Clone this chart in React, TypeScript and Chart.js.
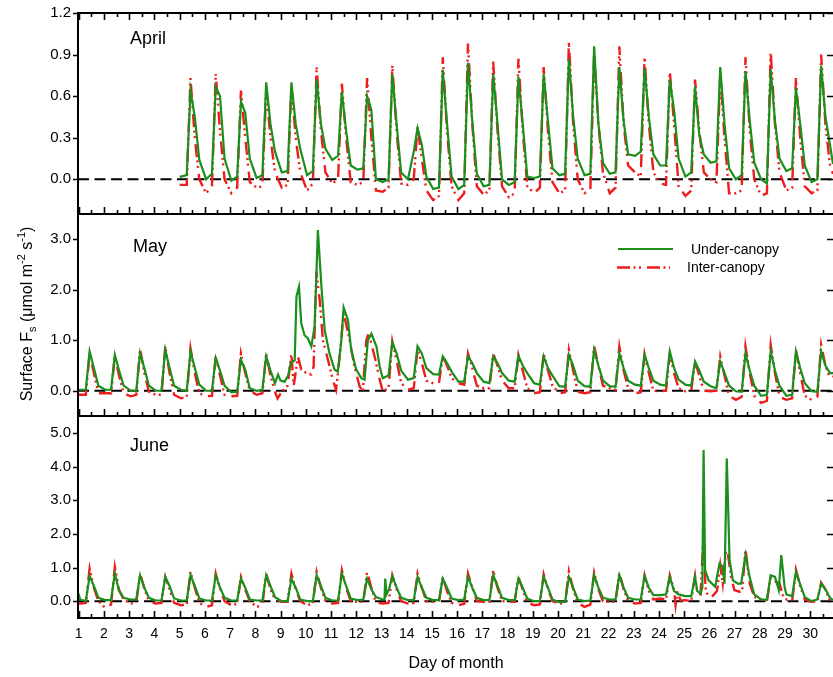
import React, { useEffect, useRef } from 'react';
import { Chart, registerables } from 'chart.js';

Chart.register(...registerables);

// ---------------- DATA ----------------
// Each daily cycle is described by values read at fixed times of day:
// night (d+0.05), dawn (d+0.28), peak (d+0.43), afternoon (d+0.60), evening (d+0.78)
const DAY_PHASES = [0.05, 0.28, 0.43, 0.6, 0.78];
const dayTicks = [1, 2, 3, 4, 5, 6, 7, 8, 9, 10, 11, 12, 13, 14, 15, 16, 17, 18, 19, 20, 21, 22, 23, 24, 25, 26, 27, 28, 29, 30];

// April (days 5..30)
const aprFirstDay = 5;
const aprUnderNight = [0.02, 0.00, -0.01, 0.01, 0.05, 0.03, 0.14, 0.07, -0.02, 0.00, -0.07, -0.07, -0.05, -0.04, 0.01, 0.03, 0.03, 0.04, 0.17, 0.10, 0.02, 0.12, 0.00, 0.00, 0.06, -0.02];
const aprUnderDawn = [0.03, 0.04, 0.02, 0.03, 0.06, 0.06, 0.17, 0.08, 0.00, 0.20, -0.06, -0.04, -0.04, -0.02, 0.02, 0.04, 0.04, 0.05, 0.20, 0.10, 0.05, 0.13, 0.03, -0.03, 0.08, 0.00];
const aprUnderPeak = [0.64, 0.67, 0.56, 0.70, 0.70, 0.72, 0.63, 0.60, 0.76, 0.37, 0.79, 0.84, 0.76, 0.74, 0.76, 0.87, 0.96, 0.81, 0.80, 0.72, 0.67, 0.81, 0.78, 0.79, 0.66, 0.82];
const aprUnderAft = [0.45, 0.60, 0.48, 0.40, 0.40, 0.40, 0.35, 0.50, 0.40, 0.25, 0.40, 0.42, 0.40, 0.40, 0.42, 0.45, 0.40, 0.42, 0.45, 0.50, 0.32, 0.40, 0.42, 0.42, 0.40, 0.45];
const aprUnderEve = [0.14, 0.15, 0.15, 0.20, 0.22, 0.22, 0.10, 0.00, 0.05, 0.02, 0.02, 0.04, 0.00, 0.02, 0.08, 0.15, 0.12, 0.18, 0.18, 0.15, 0.18, 0.08, 0.12, 0.15, 0.10, 0.25];
const aprUnderExtra = [[5.0, 0.02], [30.9, 0.11]];

const aprInterNight = [-0.04, -0.10, -0.10, -0.06, -0.06, -0.08, -0.03, -0.04, -0.09, -0.04, -0.15, -0.15, -0.11, -0.13, -0.10, -0.10, -0.10, -0.10, 0.05, -0.03, -0.12, 0.00, -0.10, -0.12, -0.08, -0.10];
const aprInterDawn = [-0.04, -0.05, -0.06, -0.05, -0.04, -0.03, 0.00, -0.02, -0.06, 0.00, -0.12, -0.10, -0.08, -0.10, -0.06, -0.08, -0.08, -0.06, 0.02, -0.04, -0.08, -0.02, -0.08, -0.10, -0.06, -0.08];
const aprInterPeak = [0.73, 0.76, 0.64, 0.65, 0.68, 0.81, 0.69, 0.73, 0.82, 0.38, 0.88, 0.98, 0.85, 0.87, 0.81, 0.99, 0.90, 0.96, 0.88, 0.78, 0.72, 0.76, 0.88, 0.92, 0.73, 0.90];
const aprInterAft = [0.30, 0.35, 0.30, 0.30, 0.30, 0.35, 0.30, 0.30, 0.35, 0.15, 0.35, 0.40, 0.35, 0.35, 0.35, 0.40, 0.40, 0.40, 0.40, 0.40, 0.35, 0.30, 0.35, 0.40, 0.30, 0.40];
const aprInterEve = [0.00, 0.00, -0.02, 0.05, 0.05, 0.05, -0.02, -0.08, -0.03, -0.08, -0.05, -0.05, -0.05, -0.05, -0.02, 0.00, 0.05, 0.10, 0.05, -0.05, 0.05, -0.10, 0.00, 0.05, -0.05, 0.10];
const aprInterExtra = [[5.0, -0.04], [30.9, 0.04]];

// May (days 1..30)
const mayFirstDay = 1;
const mayUnderNight = [0.02, 0.02, 0.00, 0.00, 0.02, 0.00, -0.03, 0.00, null, null, null, null, 0.25, 0.22, 0.33, 0.18, 0.18, 0.20, 0.15, 0.09, 0.09, 0.09, 0.12, 0.12, 0.12, 0.09, -0.01, -0.10, -0.10, -0.01];
const mayUnderDawn = [0.02, 0.02, 0.00, 0.00, 0.00, 0.00, -0.02, 0.02, null, null, null, null, 0.30, 0.25, 0.32, 0.18, 0.15, 0.18, 0.12, 0.08, 0.08, 0.08, 0.10, 0.10, 0.10, 0.05, -0.02, -0.08, -0.08, -0.02];
const mayUnderPeak = [0.78, 0.71, 0.75, 0.81, 0.78, 0.65, 0.61, 0.68, null, null, null, null, 0.96, 0.88, 0.68, 0.68, 0.68, 0.69, 0.68, 0.71, 0.81, 0.74, 0.71, 0.78, 0.58, 0.58, 0.74, 0.78, 0.78, 0.78];
const mayUnderAft = [0.45, 0.40, 0.45, 0.45, 0.45, 0.40, 0.42, 0.40, null, null, null, null, 0.74, 0.74, 0.55, 0.55, 0.55, 0.50, 0.45, 0.50, 0.50, 0.45, 0.45, 0.45, 0.40, 0.35, 0.40, 0.40, 0.45, 0.50];
const mayUnderEve = [0.10, 0.10, 0.10, 0.10, 0.12, 0.10, 0.05, 0.15, null, null, null, null, 0.40, 0.45, 0.38, 0.35, 0.35, 0.35, 0.30, 0.20, 0.20, 0.20, 0.20, 0.22, 0.18, 0.10, 0.10, 0.10, 0.15, 0.35];
const mayUnderExtra = [[1.0, 0.02], [8.9, 0.32], [9.0, 0.2], [9.16, 0.18], [9.3, 0.3], [9.4, 0.55], [9.56, 0.6], [9.63, 1.87], [9.73, 2.06], [9.82, 1.34], [9.95, 1.1], [10.08, 1.04], [10.22, 0.88], [10.35, 1.27], [10.48, 3.18], [10.62, 2.06], [10.75, 1.2], [10.94, 0.74], [11.14, 0.42], [11.27, 0.38], [11.41, 1.0], [11.5, 1.65], [11.67, 1.4], [11.8, 0.81], [12.0, 0.42], [12.2, 0.25], [12.33, 0.22], [12.46, 1.0], [12.6, 1.13], [12.8, 0.88], [12.93, 0.48], [30.9, 0.35]];

const mayInterNight = [-0.08, -0.05, -0.11, -0.08, -0.15, -0.11, -0.11, -0.08, null, null, null, null, -0.01, 0.02, 0.15, 0.15, 0.05, 0.05, -0.05, -0.05, -0.05, 0.05, -0.05, -0.01, -0.01, -0.01, -0.18, -0.24, -0.18, -0.18];
const mayInterDawn = [-0.08, -0.05, -0.08, -0.08, -0.12, -0.10, -0.10, -0.05, null, null, null, null, 0.05, 0.05, 0.15, 0.12, 0.05, 0.05, -0.03, -0.03, -0.03, 0.02, -0.03, 0.00, 0.00, 0.00, -0.12, -0.20, -0.15, -0.12];
const mayInterPeak = [0.74, 0.68, 0.84, 0.88, 0.84, 0.68, 0.74, 0.74, null, null, null, null, 0.98, 0.81, 0.69, 0.74, 0.74, 0.71, 0.74, 0.81, 0.89, 0.88, 0.73, 0.73, 0.58, 0.68, 0.88, 0.91, 0.81, 0.91];
const mayInterAft = [0.35, 0.30, 0.35, 0.35, 0.35, 0.30, 0.35, 0.30, null, null, null, null, 0.60, 0.55, 0.50, 0.45, 0.50, 0.40, 0.40, 0.40, 0.50, 0.40, 0.35, 0.35, 0.30, 0.30, 0.35, 0.35, 0.35, 0.50];
const mayInterEve = [-0.05, -0.05, -0.02, -0.08, -0.05, -0.08, 0.00, -0.02, null, null, null, null, 0.15, 0.20, 0.25, 0.10, 0.20, 0.05, 0.10, -0.02, 0.10, 0.05, 0.00, 0.05, 0.00, -0.10, -0.10, -0.12, -0.10, 0.25];
const mayInterExtra = [[1.0, -0.08], [8.88, -0.15], [9.05, -0.02], [9.28, 0.1], [9.43, 0.74], [9.52, 0.09], [9.69, 0.68], [9.82, 0.42], [10.02, 0.35], [10.22, 0.32], [10.31, 0.48], [10.42, 2.36], [10.55, 1.8], [10.68, 1.0], [10.88, 0.61], [11.07, 0.22], [11.2, 0.02], [11.33, 0.61], [11.5, 1.54], [11.74, 1.0], [11.93, 0.48], [12.13, 0.09], [12.26, -0.01], [12.4, 1.0], [12.49, 1.14], [12.73, 0.68], [12.93, 0.22], [30.9, 0.28]];

// June (days 1..30)
const junFirstDay = 1;
const junUnderNight = [0.05, 0.03, 0.05, 0.02, 0.02, 0.02, 0.02, 0.02, 0.00, 0.00, 0.02, 0.03, 0.05, 0.03, 0.03, 0.03, 0.03, 0.03, 0.00, -0.03, 0.00, 0.05, 0.05, 0.18, 0.15, null, null, 0.05, 0.20, 0.00];
const junUnderDawn = [0.00, 0.03, 0.05, 0.02, 0.02, 0.02, 0.02, 0.02, 0.00, 0.00, 0.02, 0.05, null, 0.03, 0.03, 0.05, 0.03, 0.03, 0.00, -0.02, 0.02, 0.05, 0.05, 0.20, 0.15, null, null, 0.05, 0.15, 0.05];
const junUnderPeak = [0.75, 0.82, 0.77, 0.72, 0.77, 0.77, 0.67, 0.77, 0.67, 0.77, 0.82, 0.67, 0.75, 0.72, 0.67, 0.72, 0.77, 0.67, 0.72, 0.72, 0.77, 0.77, 0.75, 0.72, 0.72, null, 1.37, 0.77, 0.87, 0.52];
const junUnderAft = [0.45, 0.30, 0.40, 0.45, 0.45, 0.40, 0.40, 0.45, 0.40, 0.45, 0.45, 0.35, 0.40, 0.40, 0.40, 0.40, 0.45, 0.40, 0.40, 0.40, 0.40, 0.40, 0.40, 0.30, null, null, 0.70, 0.72, 0.50, 0.35];
const junUnderEve = [0.10, 0.10, 0.10, 0.08, 0.08, 0.10, 0.05, 0.12, 0.05, 0.10, 0.08, 0.12, 0.10, 0.10, 0.08, 0.10, 0.10, 0.08, 0.05, 0.05, 0.10, 0.10, 0.18, 0.20, null, null, 0.20, null, 0.12, 0.10];
const junUnderExtra = [[1.0, 0.22], [13.12, 0.05], [13.15, 0.67], [13.2, 0.2], [13.3, 0.35], [25.52, 0.3], [25.65, 0.23], [25.72, 0.4], [25.77, 4.49], [25.83, 0.92], [25.97, 0.62], [26.23, 0.43], [26.4, 1.12], [26.53, 1.02], [26.6, 0.52], [26.69, 4.24], [26.8, 1.22], [26.93, 0.62], [27.13, 0.52], [27.26, 0.52], [28.75, 0.33], [28.85, 1.37], [28.98, 0.43], [30.9, 0.03]];

const junInterNight = [-0.07, -0.20, -0.07, -0.07, -0.12, -0.17, -0.12, -0.17, -0.02, -0.12, -0.07, -0.02, -0.07, -0.07, -0.02, -0.12, -0.02, -0.02, -0.12, -0.07, -0.17, -0.02, -0.07, 0.08, 0.03, null, null, 0.05, 0.05, -0.02];
const junInterDawn = [-0.05, -0.10, -0.05, -0.05, -0.10, -0.12, -0.08, -0.12, -0.02, -0.08, -0.05, -0.02, -0.05, -0.05, -0.02, -0.08, -0.02, -0.02, -0.10, -0.05, -0.10, -0.02, -0.05, 0.05, 0.00, null, null, 0.00, 0.00, 0.00];
const junInterPeak = [0.97, 1.02, 0.82, 0.72, 0.87, 0.82, 0.72, 0.82, 0.82, 0.87, 0.92, 0.87, 0.77, 0.82, 0.72, 0.82, 0.92, 0.72, 0.80, 0.89, 0.85, 0.85, 0.77, 0.77, 0.75, null, 1.56, 0.72, 0.94, 0.55];
const junInterAft = [0.40, 0.33, 0.38, 0.35, 0.40, 0.38, 0.35, 0.35, 0.35, 0.40, 0.40, 0.40, 0.35, 0.40, 0.30, 0.40, 0.40, 0.35, 0.35, 0.35, 0.35, 0.35, 0.30, 0.33, null, null, 0.52, 0.60, 0.45, 0.35];
const junInterEve = [0.00, 0.05, 0.00, -0.05, -0.05, 0.00, 0.00, 0.05, 0.00, 0.00, 0.00, -0.05, 0.00, 0.00, -0.05, 0.00, 0.00, -0.05, 0.00, -0.05, 0.00, 0.00, 0.05, null, null, null, 0.13, null, 0.05, 0.00];
const junInterExtra = [[1.0, -0.07], [24.66, -0.12], [24.74, 0.3], [24.85, 0.02], [25.52, 0.23], [25.65, 0.2], [25.76, 1.86], [25.8, 1.02], [25.86, 0.3], [25.97, 0.13], [26.1, 0.13], [26.3, 0.3], [26.43, 1.07], [26.53, 0.52], [26.66, 1.51], [26.73, 1.42], [26.86, 0.72], [26.99, 0.33], [27.19, 0.28], [27.3, 0.3], [28.78, 0.52], [28.91, 0.18], [30.9, -0.02]];

const aprYTicks = [0, 0.3, 0.6, 0.9, 1.2];
const mayYTicks = [0, 1, 2, 3];
const junYTicks = [0, 1, 2, 3, 4, 5];

const seriesNames = ['Under-canopy', 'Inter-canopy'];
const monthNames = ['April', 'May', 'June'];

// ---------------- STYLE / LAYOUT ----------------
const FONT = "'Liberation Sans', Arial, Helvetica, sans-serif";
const GREEN = '#1b8f1b';
const RED = '#ee1c1c';
const RED_DASH = [13, 3.5, 2, 3.5, 2, 6];
const ZERO_DASH = [11, 5.5];
const X_MIN = 0.97;
const X_MAX = 30.9;
const AXIS_W = 78;

type Pt = { x: number; y: number };

function buildSeries(firstDay: number, cols: (number | null)[][], extra: number[][]): Pt[] {
  const pts: Pt[] = [];
  cols.forEach((col, k) => {
    col.forEach((v, i) => {
      if (v !== null && v !== undefined) pts.push({ x: firstDay + i + DAY_PHASES[k], y: v });
    });
  });
  extra.forEach(([x, y]) => pts.push({ x, y }));
  pts.sort((a, b) => a.x - b.x);
  return pts;
}

interface Panel {
  top: number;
  height: number;
  areaTop: number;
  areaBottom: number;
  yMin: number;
  yMax: number;
  yTicks: number[];
  label: string;
  labelX: number;
  labelY: number;
  under: Pt[];
  inter: Pt[];
  showX: boolean;
  topTicks: boolean;
  legend: boolean;
  yTitle: boolean;
  xTitle: boolean;
}

const PANELS: Panel[] = [
  {
    top: 0, height: 220, areaTop: 13, areaBottom: 214, yMin: -0.25, yMax: 1.2, yTicks: aprYTicks,
    label: monthNames[0], labelX: 130, labelY: 44,
    under: buildSeries(aprFirstDay, [aprUnderNight, aprUnderDawn, aprUnderPeak, aprUnderAft, aprUnderEve], aprUnderExtra),
    inter: buildSeries(aprFirstDay, [aprInterNight, aprInterDawn, aprInterPeak, aprInterAft, aprInterEve], aprInterExtra),
    showX: false, topTicks: true, legend: false, yTitle: false, xTitle: false,
  },
  {
    top: 208, height: 214, areaTop: 6, areaBottom: 208, yMin: -0.5, yMax: 3.5, yTicks: mayYTicks,
    label: monthNames[1], labelX: 133, labelY: 252,
    under: buildSeries(mayFirstDay, [mayUnderNight, mayUnderDawn, mayUnderPeak, mayUnderAft, mayUnderEve], mayUnderExtra),
    inter: buildSeries(mayFirstDay, [mayInterNight, mayInterDawn, mayInterPeak, mayInterAft, mayInterEve], mayInterExtra),
    showX: false, topTicks: false, legend: true, yTitle: true, xTitle: false,
  },
  {
    top: 410, height: 267, areaTop: 6, areaBottom: 208, yMin: -0.5, yMax: 5.5, yTicks: junYTicks,
    label: monthNames[2], labelX: 130, labelY: 451,
    under: buildSeries(junFirstDay, [junUnderNight, junUnderDawn, junUnderPeak, junUnderAft, junUnderEve], junUnderExtra),
    inter: buildSeries(junFirstDay, [junInterNight, junInterDawn, junInterPeak, junInterAft, junInterEve], junInterExtra),
    showX: true, topTicks: false, legend: false, yTitle: false, xTitle: true,
  },
];

function drawRich(ctx: CanvasRenderingContext2D, parts: { t: string; size: number; dy: number }[]) {
  let total = 0;
  const widths = parts.map((p) => {
    ctx.font = `${p.size}px ${FONT}`;
    const w = ctx.measureText(p.t).width;
    total += w;
    return w;
  });
  let x = -total / 2;
  parts.forEach((p, i) => {
    ctx.font = `${p.size}px ${FONT}`;
    ctx.fillText(p.t, x, p.dy);
    x += widths[i];
  });
}

function makePlugin(p: Panel) {
  return {
    id: 'frame',
    afterDraw(chart: any) {
      const ctx: CanvasRenderingContext2D = chart.ctx;
      const a = chart.chartArea;
      const xs = chart.scales.x;
      const ys = chart.scales.y;
      const off = p.top;
      ctx.save();
      ctx.setLineDash([]);
      ctx.strokeStyle = '#000';
      ctx.lineWidth = 2;
      ctx.beginPath();
      ctx.moveTo(a.left, a.top);
      ctx.lineTo(a.right + 2, a.top);
      ctx.moveTo(a.left, a.bottom);
      ctx.lineTo(a.right + 2, a.bottom);
      ctx.moveTo(a.left, a.top - 1);
      ctx.lineTo(a.left, a.bottom + 1);
      ctx.stroke();

      ctx.lineWidth = 1.6;
      ctx.beginPath();
      dayTicks.forEach((d) => {
        const marks: [number, number][] = [[d, 7], [d + 0.5, 4]];
        marks.forEach(([v, len]) => {
          const px = Math.round(xs.getPixelForValue(v)) + 0.5;
          if (px > a.right - 1) return;
          ctx.moveTo(px, a.bottom);
          ctx.lineTo(px, a.bottom - len);
          if (p.topTicks) {
            ctx.moveTo(px, a.top);
            ctx.lineTo(px, a.top + len);
          }
        });
      });
      p.yTicks.forEach((v) => {
        const py = Math.round(ys.getPixelForValue(v)) + 0.5;
        ctx.moveTo(a.left - 5, py);
        ctx.lineTo(a.left, py);
        ctx.moveTo(a.right, py);
        ctx.lineTo(a.right - 6, py);
      });
      ctx.stroke();

      ctx.fillStyle = '#000';
      ctx.textAlign = 'left';
      ctx.textBaseline = 'alphabetic';
      ctx.font = `18px ${FONT}`;
      ctx.fillText(p.label, p.labelX, p.labelY - off);

      if (p.legend) {
        ctx.lineWidth = 2.2;
        ctx.strokeStyle = GREEN;
        ctx.beginPath();
        ctx.moveTo(618, 249 - off);
        ctx.lineTo(673, 249 - off);
        ctx.stroke();
        ctx.strokeStyle = RED;
        ctx.lineWidth = 2.6;
        ctx.setLineDash(RED_DASH);
        ctx.beginPath();
        ctx.moveTo(617, 267.5 - off);
        ctx.lineTo(670, 267.5 - off);
        ctx.stroke();
        ctx.setLineDash([]);
        ctx.font = `14px ${FONT}`;
        ctx.fillText(seriesNames[0], 691, 254 - off);
        ctx.fillText(seriesNames[1], 687, 272 - off);
      }

      if (p.yTitle) {
        ctx.save();
        ctx.translate(32, 314 - off);
        ctx.rotate(-Math.PI / 2);
        ctx.textAlign = 'left';
        drawRich(ctx, [
          { t: 'Surface F', size: 16, dy: 0 },
          { t: 's', size: 11, dy: 4 },
          { t: ' (\u03bcmol m', size: 16, dy: 0 },
          { t: '-2', size: 11, dy: -7 },
          { t: ' s', size: 16, dy: 0 },
          { t: '-1', size: 11, dy: -7 },
          { t: ')', size: 16, dy: 0 },
        ]);
        ctx.restore();
      }

      if (p.xTitle) {
        ctx.textAlign = 'center';
        ctx.font = `16px ${FONT}`;
        ctx.fillText('Day of month', 456, 668 - off);
      }
      ctx.restore();
    },
  };
}

function makeChart(canvas: HTMLCanvasElement, p: Panel) {
  return new Chart(canvas, {
    type: 'line',
    data: {
      datasets: [
        { label: seriesNames[0], data: p.under, borderColor: GREEN, borderWidth: 2.2, pointRadius: 0, tension: 0, order: 0, fill: false },
        { label: seriesNames[1], data: p.inter, borderColor: RED, borderWidth: 2.4, borderDash: RED_DASH, pointRadius: 0, tension: 0, order: 1, fill: false },
        { label: 'zero', data: [{ x: X_MIN, y: 0 }, { x: X_MAX, y: 0 }], borderColor: '#000', borderWidth: 2, borderDash: ZERO_DASH, pointRadius: 0, order: 2, fill: false },
      ],
    },
    options: {
      animation: false,
      responsive: false,
      maintainAspectRatio: false,
      devicePixelRatio: 1,
      events: [],
      layout: { padding: { top: p.areaTop, bottom: 0, left: 0, right: 0 } },
      plugins: { legend: { display: false }, tooltip: { enabled: false }, title: { display: false } },
      scales: {
        x: {
          type: 'linear',
          min: X_MIN,
          max: X_MAX,
          display: true,
          grid: { display: false, drawTicks: false },
          border: { display: false },
          afterBuildTicks: (s: any) => { s.ticks = dayTicks.map((v) => ({ value: v })); },
          afterFit: (s: any) => { s.height = p.height - p.areaBottom; s.paddingLeft = 0; s.paddingRight = 0; },
          ticks: { display: p.showX, autoSkip: false, maxRotation: 0, minRotation: 0, padding: 8, color: '#000', font: { family: FONT, size: 14 }, callback: (v: any) => String(v) },
        },
        y: {
          type: 'linear',
          min: p.yMin,
          max: p.yMax,
          grid: { display: false, drawTicks: false },
          border: { display: false },
          afterBuildTicks: (s: any) => { s.ticks = p.yTicks.map((v) => ({ value: v })); },
          afterFit: (s: any) => { s.width = AXIS_W; s.paddingTop = 0; s.paddingBottom = 0; },
          ticks: { padding: 7, color: '#000', font: { family: FONT, size: 15 }, callback: (v: any) => Number(v).toFixed(1) },
        },
      },
    } as any,
    plugins: [makePlugin(p)],
  });
}

export default function App() {
  const refs = useRef<(HTMLCanvasElement | null)[]>([]);
  useEffect(() => {
    Chart.defaults.font.family = FONT;
    const charts = PANELS.map((p, i) => makeChart(refs.current[i] as HTMLCanvasElement, p));
    return () => charts.forEach((c) => c.destroy());
  }, []);
  return (
    <div style={{ position: 'absolute', left: 0, top: 0, width: 833, height: 677, background: '#fff', overflow: 'hidden' }}>
      {PANELS.map((p, i) => (
        <canvas
          key={i}
          ref={(el) => { refs.current[i] = el; }}
          width={833}
          height={p.height}
          style={{ position: 'absolute', left: 0, top: p.top, width: 833, height: p.height }}
        />
      ))}
    </div>
  );
}
